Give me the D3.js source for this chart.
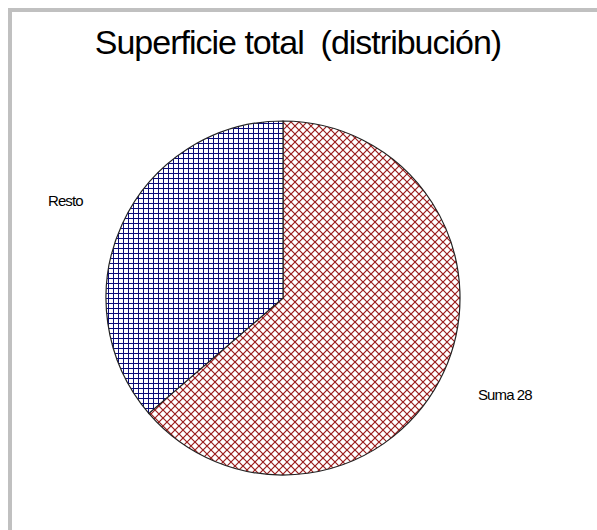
<!DOCTYPE html>
<html>
<head>
<meta charset="utf-8">
<script src="https://cdn.jsdelivr.net/npm/d3@7"></script>
<style>
  body { margin: 0; background: #fff; }
  svg { display: block; font-family: "Liberation Sans", Arial, sans-serif; }
  text { white-space: pre; }
</style>
</head>
<body>
<div id="container"></div>
<script>
let categories = ["Suma 28", "Resto"];
let values = [63.7, 36.3];
let fills = ["url(#hatchRed)", "url(#gridBlue)"];
let titleText = "Superficie total  (distribución)";

let width = 597, height = 530;
let cx = 283, cy = 298, radius = 177;

let svg = d3.select("#container")
    .append("svg")
    .attr("width", width)
    .attr("height", height);

// patterns
let defs = svg.append("defs");
let red = defs.append("pattern")
    .attr("id", "hatchRed")
    .attr("patternUnits", "userSpaceOnUse")
    .attr("width", 8).attr("height", 8);
red.append("rect").attr("width", 8).attr("height", 8).attr("fill", "#fff");
red.append("path")
    .attr("d", "M0,0L8,8M8,0L0,8")
    .attr("stroke", "#9a1c1c")
    .attr("stroke-width", 1.2);

let blue = defs.append("pattern")
    .attr("id", "gridBlue")
    .attr("patternUnits", "userSpaceOnUse")
    .attr("width", 5).attr("height", 5);
blue.append("rect").attr("width", 5).attr("height", 5).attr("fill", "#fff");
blue.append("path")
    .attr("d", "M0.5,0V5M0,0.5H5")
    .attr("stroke", "#0a0a78")
    .attr("stroke-width", 1);

// frame
svg.append("rect").attr("x", 8).attr("y", 8).attr("width", width - 8).attr("height", 4).attr("fill", "#c0c0c0");
svg.append("rect").attr("x", 8).attr("y", 8).attr("width", 4).attr("height", height - 8).attr("fill", "#c0c0c0");

svg.append("text")
    .attr("x", 298)
    .attr("y", 54)
    .attr("text-anchor", "middle")
    .attr("style", "font-size:34px;letter-spacing:-1px")
    .text(titleText);

let pieData = d3.pie().sort(null)(values);
let arc = d3.arc().innerRadius(0).outerRadius(radius);

let g = svg.append("g")
    .attr("transform", "translate(" + cx + "," + cy + ")");
g.selectAll("path")
    .data(pieData)
    .enter()
    .append("path")
    .attr("fill", (_, i) => fills[i])
    .attr("stroke", "#222")
    .attr("stroke-width", 1.2)
    .attr("d", d => arc(d));

// labels outside the pie
let labelPos = [[478, 400], [48, 206]];
svg.append("g")
    .selectAll("text")
    .data(pieData)
    .enter()
    .append("text")
    .attr("x", (d, i) => labelPos[i][0])
    .attr("y", (d, i) => labelPos[i][1])
    .attr("style", "font-size:15px;letter-spacing:-0.9px")
    .text((d, i) => categories[i]);
</script>
</body>
</html>
